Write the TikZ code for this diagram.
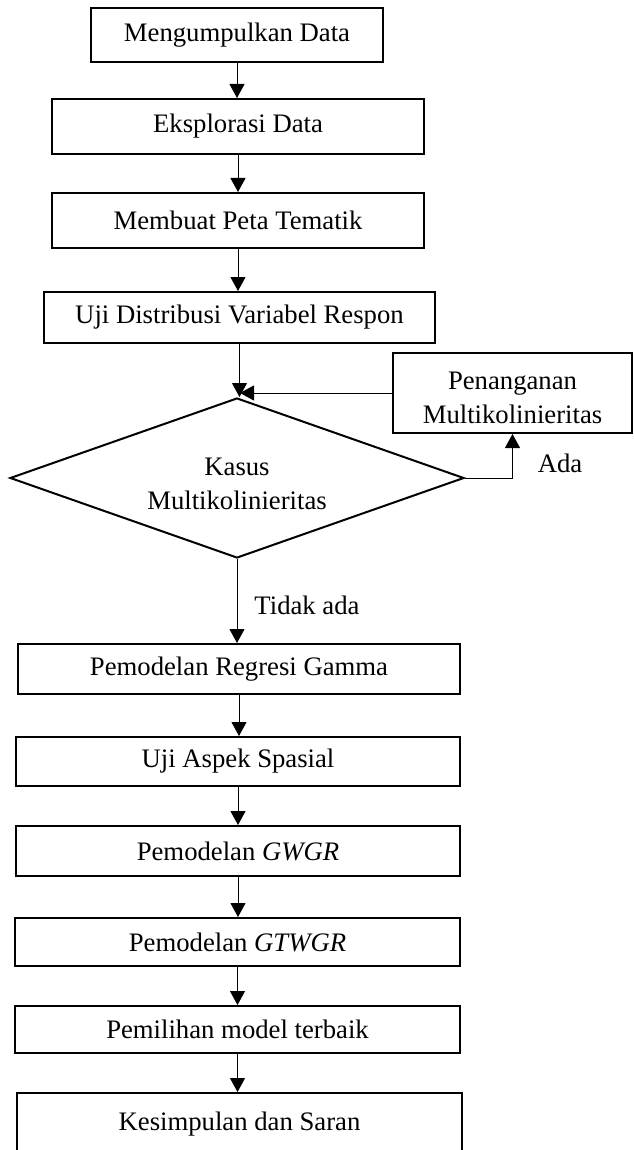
\documentclass[tikz,border=0pt]{standalone}
\usepackage{fontspec}
\setmainfont{Liberation Serif}
\usetikzlibrary{shapes.geometric,arrows.meta}

\begin{document}
\begin{tikzpicture}[x=1pt, y=-1pt,
    every node/.style={font=\fontsize{26.7}{34}\selectfont},
    box/.style 2 args={draw, line width=2pt, inner sep=0pt, minimum width=#1, minimum height=#2},
    decision/.style={diamond, draw, line width=2pt, aspect=2.84, inner sep=0pt,
        minimum width=454pt, minimum height=160pt, align=center},
    flow/.style={-{Triangle[length=14pt,width=15pt]}, line width=1pt}]
    \useasboundingbox (0,0) rectangle (633,1150);

    \node[box={292pt}{54pt}] (collect) at (237,35) {Mengumpulkan Data};
    \node[box={372pt}{55pt}] (explore) at (238,126.5) {Eksplorasi Data};
    \node[box={372pt}{55pt}] (map) at (238,220.5) {Membuat Peta Tematik};
    \node[box={391pt}{51pt}] (distrib) at (239.5,317.5) {Uji Distribusi Variabel Respon};
    \node[box={239pt}{80pt}, align=center] (handle) at (512.5,393) {\rule{0pt}{27pt}Penanganan\\Multikolinieritas};
    \node[decision] (check) at (237,478) {\rule{0pt}{30pt}Kasus\\Multikolinieritas};
    \node[box={442pt}{50pt}] (gamma) at (239,669) {Pemodelan Regresi Gamma};
    \node[box={444pt}{49pt}] (spatial) at (238,761.5) {Uji Aspek Spasial};
    \node[box={444pt}{50pt}] (gwgr) at (238,851) {Pemodelan \textit{GWGR}};
    \node[box={445pt}{48pt}] (gtwgr) at (237.5,942) {Pemodelan \textit{GTWGR}};
    \node[box={445pt}{47pt}] (select) at (237.5,1029.5) {Pemilihan model terbaik};
    \node[box={445pt}{62pt}] (concl) at (239.5,1124) {Kesimpulan dan Saran};

    \node (yes) at (560,463) {Ada};
    \node (no) at (307,605) {Tidak ada};
    \coordinate (merge) at (240,393);

    \foreach \a/\b in {collect/explore, explore/map, map/distrib, gamma/spatial,
        spatial/gwgr, gwgr/gtwgr, gtwgr/select, select/concl}
        \draw[flow] (\a.south) -- (\a.south |- \b.north);

    \draw[flow] (distrib.south) -- (distrib.south |- check.north);
    \draw[flow] (handle.west) -- (merge);
    \draw[flow] (check.east) -| (handle.south);
    \draw[flow] (check.south) -- (check.south |- gamma.north);
\end{tikzpicture}
\end{document}
